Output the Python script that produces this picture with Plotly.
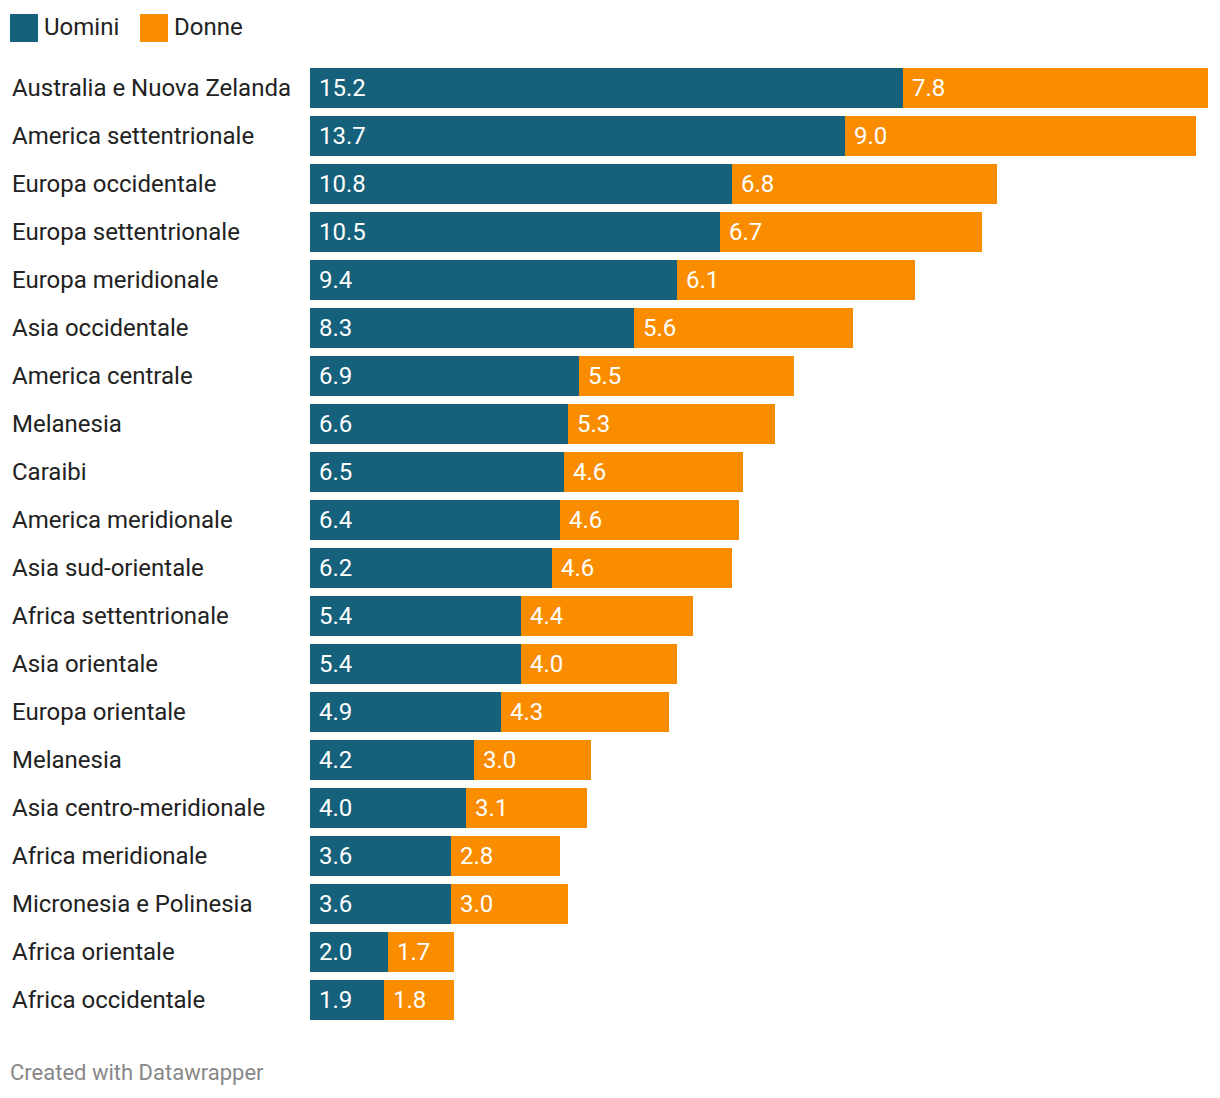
import plotly.graph_objects as go

regions = [
    "Australia e Nuova Zelanda", "America settentrionale", "Europa occidentale",
    "Europa settentrionale", "Europa meridionale", "Asia occidentale",
    "America centrale", "Melanesia", "Caraibi", "America meridionale",
    "Asia sud-orientale", "Africa settentrionale", "Asia orientale",
    "Europa orientale", "Melanesia", "Asia centro-meridionale",
    "Africa meridionale", "Micronesia e Polinesia", "Africa orientale",
    "Africa occidentale",
]
uomini = [15.2, 13.7, 10.8, 10.5, 9.4, 8.3, 6.9, 6.6, 6.5, 6.4,
          6.2, 5.4, 5.4, 4.9, 4.2, 4.0, 3.6, 3.6, 2.0, 1.9]
donne = [7.8, 9.0, 6.8, 6.7, 6.1, 5.6, 5.5, 5.3, 4.6, 4.6,
         4.6, 4.4, 4.0, 4.3, 3.0, 3.1, 2.8, 3.0, 1.7, 1.8]
series_names = ["Uomini", "Donne"]
colors = ["#15607a", "#fa8c00"]

OFF = 8  # page body margin
W, H = 1220 - 2 * OFF, 1098 - 2 * OFF
ML, MR, MT, MB = 310 - OFF, W + OFF - 1208, 64 - OFF, H + OFF - 1024
FONT = "Roboto"
pos = list(range(len(regions)))

plot_w = W - ML - MR
plot_h = H - MT - MB
def px_x(page_px):
    return (page_px - OFF - ML) / plot_w
def px_y(page_py):
    return 1 - (page_py - OFF - MT) / plot_h

fig = go.Figure()
fig.add_trace(go.Bar(y=pos, x=uomini, orientation="h", name=series_names[0],
                     marker=dict(color=colors[0], line=dict(width=0)),
                     hoverinfo="x"))
fig.add_trace(go.Bar(y=pos, x=donne, base=uomini, orientation="h", name=series_names[1],
                     marker=dict(color=colors[1], line=dict(width=0)),
                     hoverinfo="x"))

annotations = []
for i, (u, d) in enumerate(zip(uomini, donne)):
    annotations.append(dict(x=0, y=i, xref="x", yref="y", text=f"{u:.1f}",
                            xanchor="left", yanchor="middle", xshift=7, showarrow=False,
                            font=dict(family=FONT, size=24, color="white")))
    annotations.append(dict(x=u, y=i, xref="x", yref="y", text=f"{d:.1f}",
                            xanchor="left", yanchor="middle", xshift=7, showarrow=False,
                            font=dict(family=FONT, size=24, color="white")))
    annotations.append(dict(x=px_x(10), y=i, xref="paper", yref="y",
                            text=regions[i], xanchor="left", yanchor="middle",
                            showarrow=False,
                            font=dict(family=FONT, size=24, color="#222222")))

shapes = []
legend_items = [(10, 42, series_names[0], colors[0]), (140, 172, series_names[1], colors[1])]
for sx, tx, name, col in legend_items:
    shapes.append(dict(type="rect", xref="paper", yref="paper",
                       x0=px_x(sx), x1=px_x(sx + 28), y0=px_y(42), y1=px_y(14),
                       fillcolor=col, line=dict(width=0)))
    annotations.append(dict(x=px_x(tx), y=px_y(27), xref="paper", yref="paper",
                            text=name, xanchor="left", yanchor="middle", showarrow=False,
                            font=dict(family=FONT, size=24, color="#222222")))

annotations.append(dict(x=px_x(8), y=px_y(1072), xref="paper", yref="paper",
                        text="Created with Datawrapper", xanchor="left", yanchor="middle",
                        showarrow=False, font=dict(family=FONT, size=22, color="#888888")))

fig.update_layout(
    width=W, height=H,
    margin=dict(l=ML, r=MR, t=MT, b=MB, pad=0),
    barmode="stack", bargap=8 / 48,
    showlegend=False,
    plot_bgcolor="white", paper_bgcolor="white",
    xaxis=dict(range=[0, 23], visible=False, fixedrange=True),
    yaxis=dict(range=[len(regions) - 0.5, -0.5], visible=False, fixedrange=True),
    annotations=annotations, shapes=shapes,
    font=dict(family=FONT),
)

fig.write_html("out.html")
